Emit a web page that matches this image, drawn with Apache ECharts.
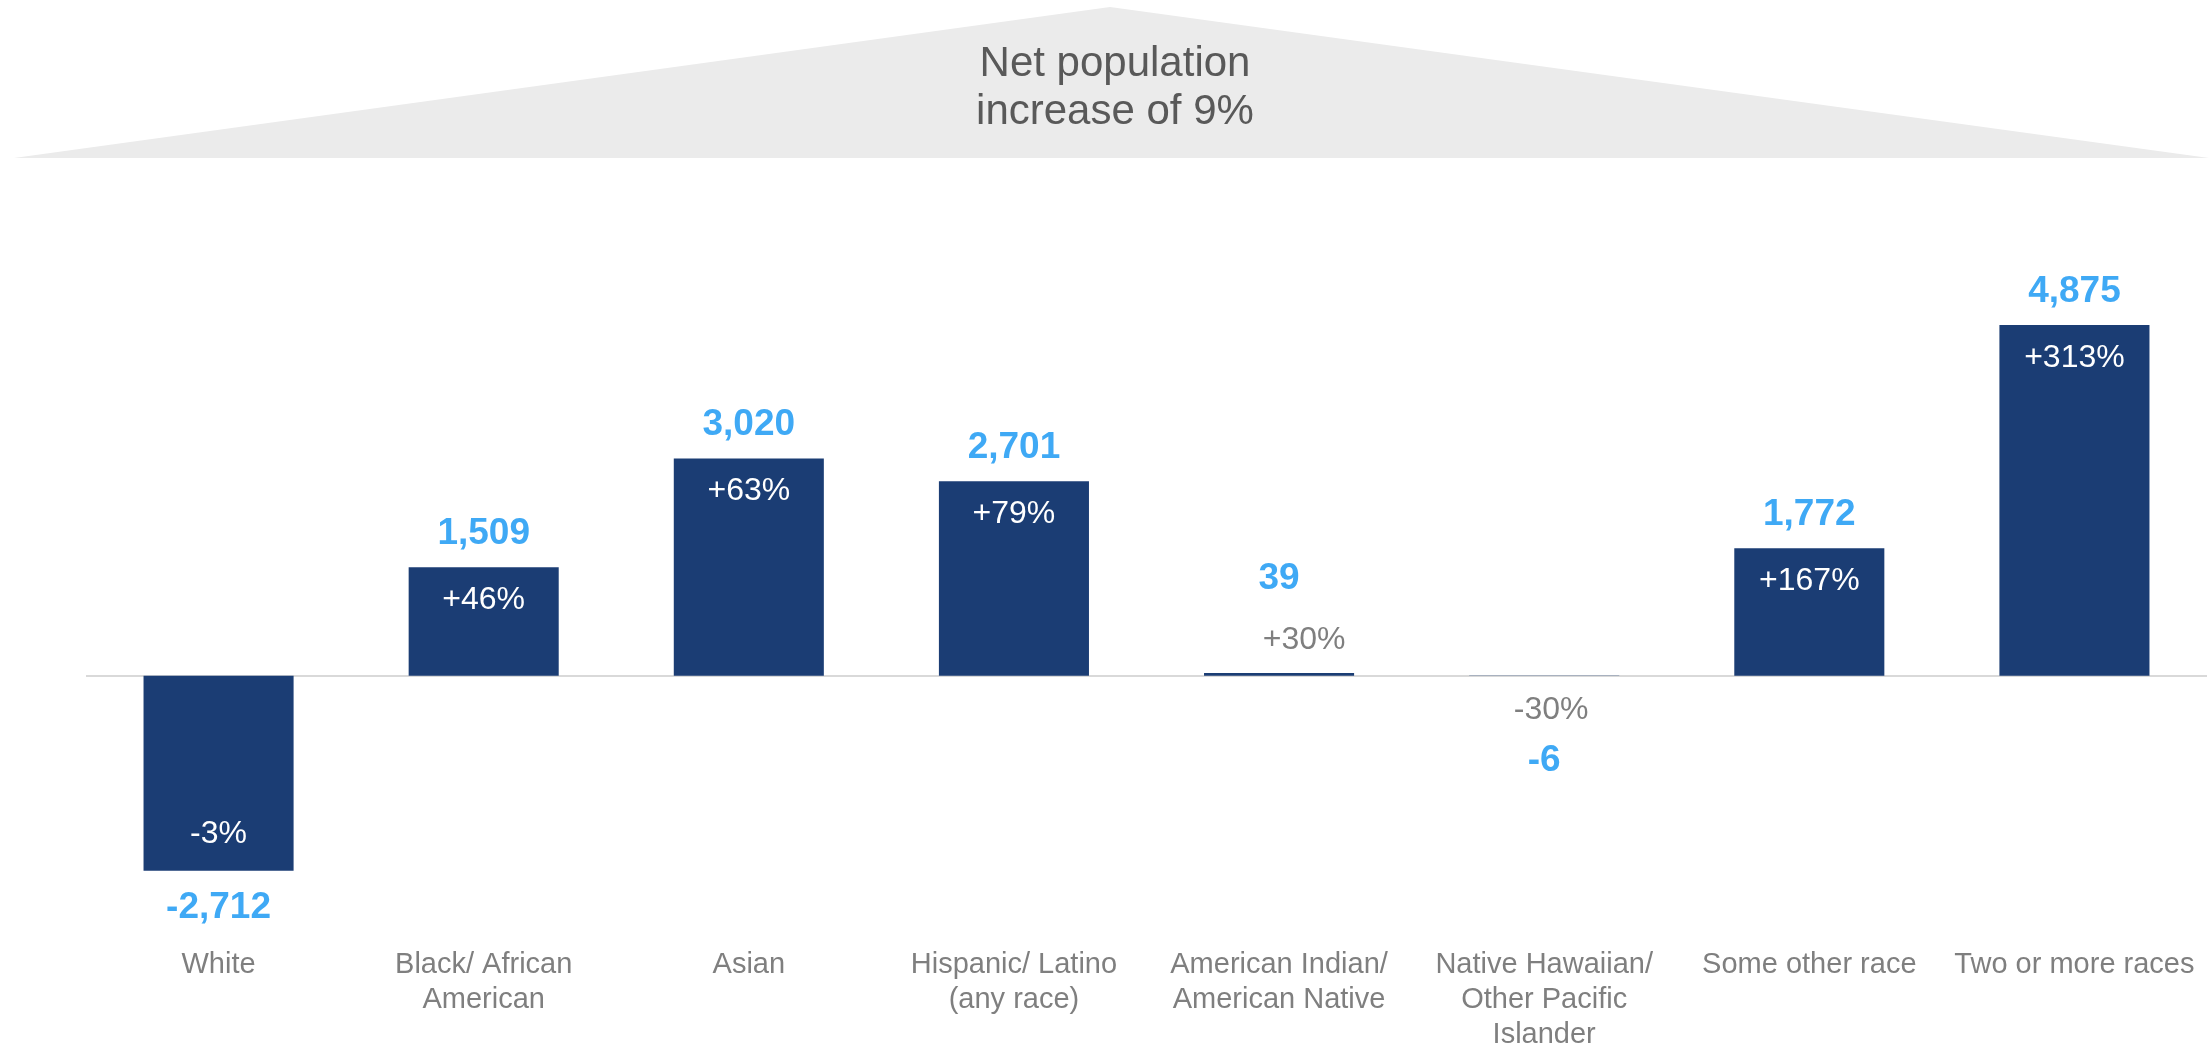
<!DOCTYPE html>
<html>
<head>
<meta charset="utf-8">
<script src="https://cdn.jsdelivr.net/npm/echarts@6/dist/echarts.min.js"></script>
<style>
html,body{margin:0;padding:0;background:#fff;}
#chart{width:2209px;height:1052px;}
</style>
</head>
<body>
<div id="chart"></div>
<script>
var categories = ['White', 'Black/ African\nAmerican', 'Asian', 'Hispanic/ Latino\n(any race)', 'American Indian/\nAmerican Native', 'Native Hawaiian/\nOther Pacific\nIslander', 'Some other race', 'Two or more races'];
var values = [-2712, 1509, 3020, 2701, 39, -6, 1772, 4875];
var pctLabels = ['-3%', '+46%', '+63%', '+79%', '+30%', '-30%', '+167%', '+313%'];
var titleText = 'Net population\nincrease of 9%';

var FONT = '"Liberation Sans", Arial, sans-serif';
var BAR = '#1b3d74';
var BLUE = '#3fa9f5';
var GRAY = '#7f7f7f';

function fmt(v) {
  var s = Math.abs(v).toString().replace(/\B(?=(\d{3})+(?!\d))/g, ',');
  return (v < 0 ? '-' : '') + s;
}

var valueData = values.map(function (v, i) {
  var small = Math.abs(v) < 100;
  return {
    value: v,
    label: {
      position: v < 0 ? 'bottom' : 'top',
      distance: small ? (v < 0 ? 66 : 76) : (v < 0 ? 18 : 15)
    }
  };
});

var pctData = values.map(function (v, i) {
  var small = Math.abs(v) < 100;
  var lab;
  if (small) {
    lab = {
      position: v < 0 ? 'bottom' : 'top',
      distance: v < 0 ? 18 : 17,
      color: GRAY,
      offset: [v < 0 ? 7 : 25, 0]
    };
  } else {
    lab = {
      position: v < 0 ? 'insideBottom' : 'insideTop',
      distance: v < 0 ? 21 : 17,
      color: '#ffffff'
    };
  }
  return { value: v, label: lab };
});

var chart = echarts.init(document.getElementById('chart'));
chart.setOption({
  animation: false,
  backgroundColor: '#ffffff',
  graphic: [{
    type: 'polygon',
    z: -1,
    shape: { points: [[14, 158], [1110, 7], [2209, 158]] },
    style: { fill: '#ebebeb' }
  }],
  title: {
    text: titleText,
    left: 1110,
    top: 35,
    textAlign: 'center',
    textStyle: {
      fontFamily: FONT,
      fontSize: 42,
      fontWeight: 'normal',
      color: '#595959',
      lineHeight: 48
    }
  },
  grid: { left: 86, right: 2, top: 280, bottom: 102, containLabel: false },
  xAxis: {
    type: 'category',
    data: categories,
    axisLine: { show: false, onZero: false },
    axisTick: { show: false },
    axisLabel: {
      interval: 0,
      margin: 8,
      color: GRAY,
      fontFamily: FONT,
      fontSize: 29,
      lineHeight: 35
    }
  },
  yAxis: {
    type: 'value',
    min: -3660,
    max: 5500,
    show: false,
    splitLine: { show: false }
  },
  series: [{
    type: 'bar',
    data: valueData,
    barWidth: '56.6%',
    barGap: '-100%',
    itemStyle: { color: BAR },
    label: {
      show: true,
      formatter: function (p) { return fmt(p.value); },
      color: BLUE,
      fontFamily: FONT,
      fontSize: 37,
      fontWeight: 'bold'
    },
    markLine: {
      silent: true,
      symbol: 'none',
      label: { show: false },
      lineStyle: { color: '#d9d9d9', width: 2, type: 'solid' },
      data: [{ yAxis: 0 }],
      z: 1
    },
    z: 2
  }, {
    type: 'bar',
    data: pctData,
    barWidth: '56.6%',
    barGap: '-100%',
    itemStyle: { color: 'rgba(0,0,0,0)' },
    label: {
      show: true,
      formatter: function (p) { return pctLabels[p.dataIndex]; },
      fontFamily: FONT,
      fontSize: 32
    },
    z: 3
  }]
});
</script>
</body>
</html>
